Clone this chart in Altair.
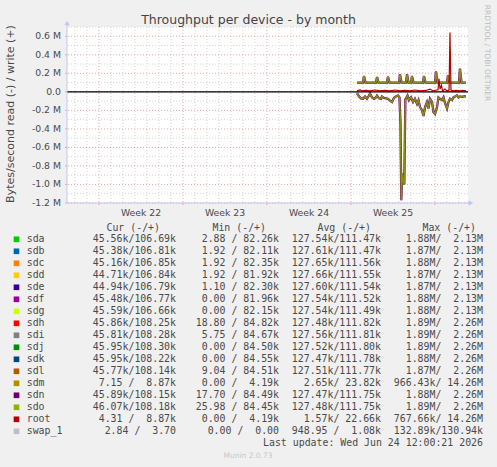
import altair as alt
import pandas as pd

# ---------------- data ----------------
# time axis: days relative to Monday 22 Jun 2026 00:00 (start of week 26)
# values: millions of bytes/second; read drawn negative, write positive
read_t = [-6.50, -6.33, -6.17, -6.00, -5.83, -5.67, -5.50, -5.42, -5.25, -5.08,
          -4.92, -4.83, -4.67, -4.50, -4.42, -4.25, -4.08, -3.92, -3.75, -3.58,
          -3.42, -3.25, -3.08, -2.96, -2.875, -2.81, -2.725, -2.64, -2.56, -2.47,
          -2.42, -2.29, -2.17, -2.00, -1.83, -1.67, -1.50, -1.375, -1.25, -1.08,
          -0.96, -0.83, -0.67, -0.54, -0.42, -0.25, -0.125, 0.00, 0.17, 0.29,
          0.42, 0.58, 0.71, 0.83, 1.00, 1.125, 1.25, 1.42, 1.54, 1.67,
          1.83, 1.96, 2.08, 2.25, 2.42, 2.58]
disk_read = [-0.015, -0.05, -0.07, -0.075, -0.05, -0.075, -0.04, -0.02, -0.06, -0.075,
             -0.06, -0.04, -0.07, -0.075, -0.05, -0.065, -0.07, -0.075, -0.095, -0.11,
             -0.065, -0.05, -0.04, -0.06, -0.35, -1.17, -0.88, -0.97, -1.00, -0.08,
             -0.07, -0.04, -0.09, -0.06, -0.11, -0.075, -0.13, -0.09, -0.165, -0.20,
             -0.26, -0.165, -0.11, -0.18, -0.075, -0.11, -0.22, -0.24, -0.165, -0.06,
             -0.075, -0.09, -0.06, -0.12, -0.18, -0.11, -0.075, -0.09, -0.06, -0.05,
             -0.04, -0.06, -0.05, -0.055, -0.05, -0.05]

write_t = [-6.50, -6.00, -5.92, -5.79, -4.92, -4.83, -4.71, -4.00, -3.92, -3.79,
           -3.00, -2.92, -2.79, -2.42, -2.33, -2.21, -2.00, -1.92, -1.79, -1.00,
           -0.92, -0.79, 0.00, 0.08, 0.21, 1.00, 1.08, 1.21, 2.00, 2.08,
           2.21, 2.58]
disk_write = [0.10, 0.10, 0.17, 0.10, 0.10, 0.16, 0.10, 0.10, 0.165, 0.10,
              0.10, 0.19, 0.10, 0.10, 0.19, 0.10, 0.10, 0.17, 0.10, 0.10,
              0.17, 0.10, 0.10, 0.22, 0.10, 0.10, 0.18, 0.10, 0.10, 0.25,
              0.10, 0.10]

root_t = [-6.50, -6.25, -6.08, -5.75, -5.42, -5.00, -4.58, -4.17, -3.75, -3.33,
          -2.92, -2.50, -2.08, -1.67, -1.25, -0.75, -0.42, -0.17, 0.17, 0.25,
          0.33, 0.42, 0.54, 0.625, 0.83, 1.00, 1.17, 1.25, 1.33, 1.50,
          1.75, 2.08, 2.33, 2.58]
root_write = [0.010, 0.020, 0.010, 0.015, 0.010, 0.020, 0.010, 0.015, 0.010, 0.020,
              0.010, 0.015, 0.010, 0.020, 0.010, 0.015, 0.030, 0.010, 0.020, 0.020,
              0.14, 0.030, 0.07, 0.010, 0.030, 0.010, 0.020, 0.64, 0.020, 0.010,
              0.015, 0.010, 0.015, 0.010]

# axis ticks / grid
y_major = [-1.2, -1.0, -0.8, -0.6, -0.4, -0.2, 0.0, 0.2, 0.4, 0.6]
y_minor = [-1.1, -0.9, -0.7, -0.5, -0.3, -0.1, 0.1, 0.3, 0.5, 0.7]
week_starts = [-28, -21, -14, -7, 0]
week_mid = [-24.5, -17.5, -10.5, -3.5]
day_lines = [-30, -29, -27, -26, -25, -24, -23, -22, -20, -19, -18, -17, -16, -15,
             -13, -12, -11, -10, -9, -8, -6, -5, -4, -3, -2, -1, 1, 2]
zero_line = [0.0]

# legend table
devices = ["sda", "sdb", "sdc", "sdd", "sde", "sdf", "sdg", "sdh", "sdi", "sdj",
           "sdk", "sdl", "sdm", "sdn", "sdo", "root", "swap_1"]
colors = ["#00CC00", "#0066B3", "#FF8000", "#FFCC00", "#330099", "#990099", "#CCFF00",
          "#FF0000", "#808080", "#008F00", "#00487D", "#B35A00", "#B38F00", "#6B006B",
          "#8FB300", "#B30000", "#BEBEBE"]
cur_col = ["45.56k/106.69k", "45.38k/106.81k", "45.16k/106.85k", "44.71k/106.84k",
           "44.94k/106.79k", "45.48k/106.77k", "45.59k/106.66k", "45.86k/108.25k",
           "45.81k/108.28k", "45.95k/108.30k", "45.95k/108.22k", "45.77k/108.14k",
           "7.15 /  8.87k", "45.89k/108.15k", "46.07k/108.18k", "4.31 /  8.87k",
           "2.84 /  3.70 "]
min_col = ["2.88 / 82.26k", "1.92 / 82.11k", "1.92 / 82.35k", "1.92 / 81.92k",
           "1.10 / 82.30k", "0.00 / 81.96k", "0.00 / 82.15k", "18.80 / 84.82k",
           "5.75 / 84.67k", "0.00 / 84.50k", "0.00 / 84.55k", "9.04 / 84.51k",
           "0.00 /  4.19k", "17.70 / 84.49k", "25.98 / 84.45k", "0.00 /  4.19k",
           "0.00 /  0.00 "]
avg_col = ["127.54k/111.47k", "127.61k/111.47k", "127.65k/111.56k", "127.66k/111.55k",
           "127.60k/111.54k", "127.54k/111.52k", "127.54k/111.49k", "127.48k/111.82k",
           "127.56k/111.81k", "127.52k/111.80k", "127.47k/111.78k", "127.51k/111.77k",
           "2.65k/ 23.82k", "127.47k/111.75k", "127.48k/111.75k", "1.57k/ 22.66k",
           "948.95 /  1.08k"]
max_col = ["1.88M/  2.13M", "1.87M/  2.13M", "1.88M/  2.13M", "1.87M/  2.13M",
           "1.87M/  2.13M", "1.88M/  2.13M", "1.88M/  2.13M", "1.89M/  2.26M",
           "1.89M/  2.26M", "1.89M/  2.26M", "1.88M/  2.26M", "1.87M/  2.26M",
           "966.43k/ 14.26M", "1.88M/  2.26M", "1.89M/  2.26M", "767.66k/ 14.26M",
           "132.89k/130.94k"]
headers = ["Cur (-/+)", "Min (-/+)", "Avg (-/+)", "Max (-/+)"]

TITLE = "Throughput per device - by month"
Y_TITLE = "Bytes/second read (-) / write (+)"
SIDE = "RRDTOOL / TOBI OETIKER"
UPDATE = "Last update: Wed Jun 24 12:00:21 2026"
FOOT = "Munin 2.0.73"

# ---------------- styling ----------------
W, H = 401, 176
SANS = "DejaVu Sans"
MONO = "DejaVu Sans Mono"
TXT = "#4a4a4a"
AXIS_BLUE = "#C4C4F4"
MINOR = "#D4D4D4"
MAJOR = "#EBA8A8"
ROW0, ROWSTEP = 212.3, 12.0

xs = alt.Scale(domain=[-30.67, 2.75], nice=False, zero=False)
ys = alt.Scale(domain=[-1.2, 0.7], nice=False, zero=False)

def X(f):
    return alt.X(f, scale=xs, axis=None)

def Y(f):
    return alt.Y(f, scale=ys, axis=None)

def nb(s):
    return s.replace(" ", "\u00a0")

col = dict(zip(devices, colors))

disk_df = pd.concat([
    pd.DataFrame({"t": read_t, "v": disk_read, "dir": "read"}),
    pd.DataFrame({"t": write_t, "v": disk_write, "dir": "write"}),
])
root_df = pd.DataFrame({"t": root_t, "v": root_write, "dir": "write"})

# grid
g_minor_y = alt.Chart(pd.DataFrame({"v": y_minor})).mark_rule(
    color=MINOR, strokeDash=[1, 2], strokeWidth=1).encode(y=Y("v:Q"))
g_minor_x = alt.Chart(pd.DataFrame({"t": day_lines})).mark_rule(
    color=MINOR, strokeDash=[1, 2], strokeWidth=1).encode(x=X("t:Q"))
g_major_y = alt.Chart(pd.DataFrame({"v": y_major})).mark_rule(
    color=MAJOR, strokeDash=[1, 2], strokeWidth=1).encode(y=Y("v:Q"))
g_major_x = alt.Chart(pd.DataFrame({"t": week_starts})).mark_rule(
    color=MAJOR, strokeDash=[1, 2], strokeWidth=1).encode(x=X("t:Q"))

# y tick labels and small ticks
y_lab = alt.Chart(pd.DataFrame({"v": y_major})).transform_calculate(
    lab="datum.v == 0 ? '0.0' : (datum.v < 0 ? '-' : '') + format(abs(datum.v), '.1f') + ' M'"
).mark_text(align="right", baseline="middle", font=SANS, fontSize=9.3, color=TXT).encode(
    y=Y("v:Q"), x=alt.value(-6), text="lab:N")
y_tick = alt.Chart(pd.DataFrame({"v": y_major})).mark_rule(color=MAJOR).encode(
    y=Y("v:Q"), x=alt.value(-2), x2=alt.value(0))
# week labels
x_lab = alt.Chart(pd.DataFrame({"t": week_mid})).transform_calculate(
    lab="'Week ' + (26 + floor(datum.t / 7))"
).mark_text(align="center", baseline="middle", font=SANS, fontSize=9.3, color=TXT).encode(
    x=X("t:Q"), y=alt.value(H + 9.5), text="lab:N")
x_tick = alt.Chart(pd.DataFrame({"t": week_starts})).mark_rule(color=MAJOR).encode(
    x=X("t:Q"), y=alt.value(H), y2=alt.value(H + 2))

under = alt.Chart(disk_df).mark_line(strokeWidth=2.3, color=col["sdn"]).encode(
    x=X("t:Q"), y=Y("v:Q"), detail="dir:N")
top = alt.Chart(disk_df).mark_line(strokeWidth=1.5, color=col["sdo"], opacity=0.8).encode(
    x=X("t:Q"), y=Y("v:Q"), detail="dir:N")
root = alt.Chart(root_df).mark_line(strokeWidth=1.2, color=col["root"]).encode(
    x=X("t:Q"), y=Y("v:Q"))
zero = alt.Chart(pd.DataFrame({"v": zero_line})).mark_rule(
    color="#000000", strokeWidth=1.2).encode(y=Y("v:Q"))

# axis lines with arrows
one = pd.DataFrame({"a": [0]})
y_line = alt.Chart(one).mark_rule(color=AXIS_BLUE).encode(
    x=alt.value(0), y=alt.value(-5), y2=alt.value(H))
y_arrow = alt.Chart(one).mark_point(
    shape="triangle-up", filled=True, color=AXIS_BLUE, size=30, opacity=1).encode(
    x=alt.value(0), y=alt.value(-4))
x_line = alt.Chart(one).mark_rule(color=AXIS_BLUE).encode(
    x=alt.value(0), x2=alt.value(W + 4), y=alt.value(H))
x_arrow = alt.Chart(one).mark_point(
    shape="triangle-right", filled=True, color=AXIS_BLUE, size=30, opacity=1).encode(
    x=alt.value(W + 3), y=alt.value(H))

def label(text, x, y, size, color=TXT, font=SANS, align="center", angle=0):
    kw = dict(align=align, baseline="middle", font=font, fontSize=size, color=color)
    if angle:
        kw["angle"] = angle
    return alt.Chart(pd.DataFrame({"s": [nb(text) if font == MONO else text]})).mark_text(
        **kw).encode(text="s:N", x=alt.value(x), y=alt.value(y))

title = label(TITLE, 181.5, -7.5, 12.5, color="#444444")
ytitle = label(Y_TITLE, -56, 87, 11, angle=270)
side = label(SIDE, 420, 26, 7.5, color="#BDBDBD", angle=90)

# ---------------- legend table ----------------
leg_df = pd.DataFrame({
    "row": list(range(len(devices))),
    "name": devices,
    "color": colors,
    "cur": [nb(s) for s in cur_col],
    "min": [nb(s) for s in min_col],
    "avg": [nb(s) for s in avg_col],
    "max": [nb(s) for s in max_col],
})
base = alt.Chart(leg_df).transform_calculate(ypix=f"{ROW0} + datum.row * {ROWSTEP}")
ly = alt.Y("ypix:Q", scale=None, axis=None)
swatch = base.mark_square(size=32, opacity=1).encode(
    x=alt.value(-50.5), y=ly, color=alt.Color("color:N", scale=None))

def col_text(field, x, align):
    return base.mark_text(align=align, baseline="middle", font=MONO, fontSize=9.9,
                          color=TXT).encode(x=alt.value(x), y=ly, text=f"{field}:N")

names = col_text("name", -40.3, "left")
c_cur = col_text("cur", 109, "right")
c_min = col_text("min", 212, "right")
c_avg = col_text("avg", 314, "right")
c_max = col_text("max", 416, "right")

hdr_x = [93, 199, 304, 409]
hdr = [label(h, hx, 200.5, 9.9, font=MONO, align="right") for h, hx in zip(headers, hdr_x)]
upd = label(UPDATE, 416, 416.3, 9.9, font=MONO, align="right")
foot = label(FOOT, 181, 429, 7.5, color="#C8C8C8")

chart = alt.layer(g_minor_y, g_minor_x, g_major_y, g_major_x,
                  under, top, root, zero,
                  y_line, y_arrow, x_line, x_arrow, y_tick, x_tick, y_lab, x_lab,
                  title, ytitle, side,
                  swatch, names, c_cur, c_min, c_avg, c_max, *hdr, upd, foot
).properties(
    width=W, height=H, autosize="none",
    padding={"left": 67, "top": 27, "right": 29, "bottom": 264},
).configure(background="#F0F0F0", font=SANS).configure_view(fill="white", strokeWidth=0)

chart.save("out.html", embed_options={"renderer": "svg", "actions": False})
